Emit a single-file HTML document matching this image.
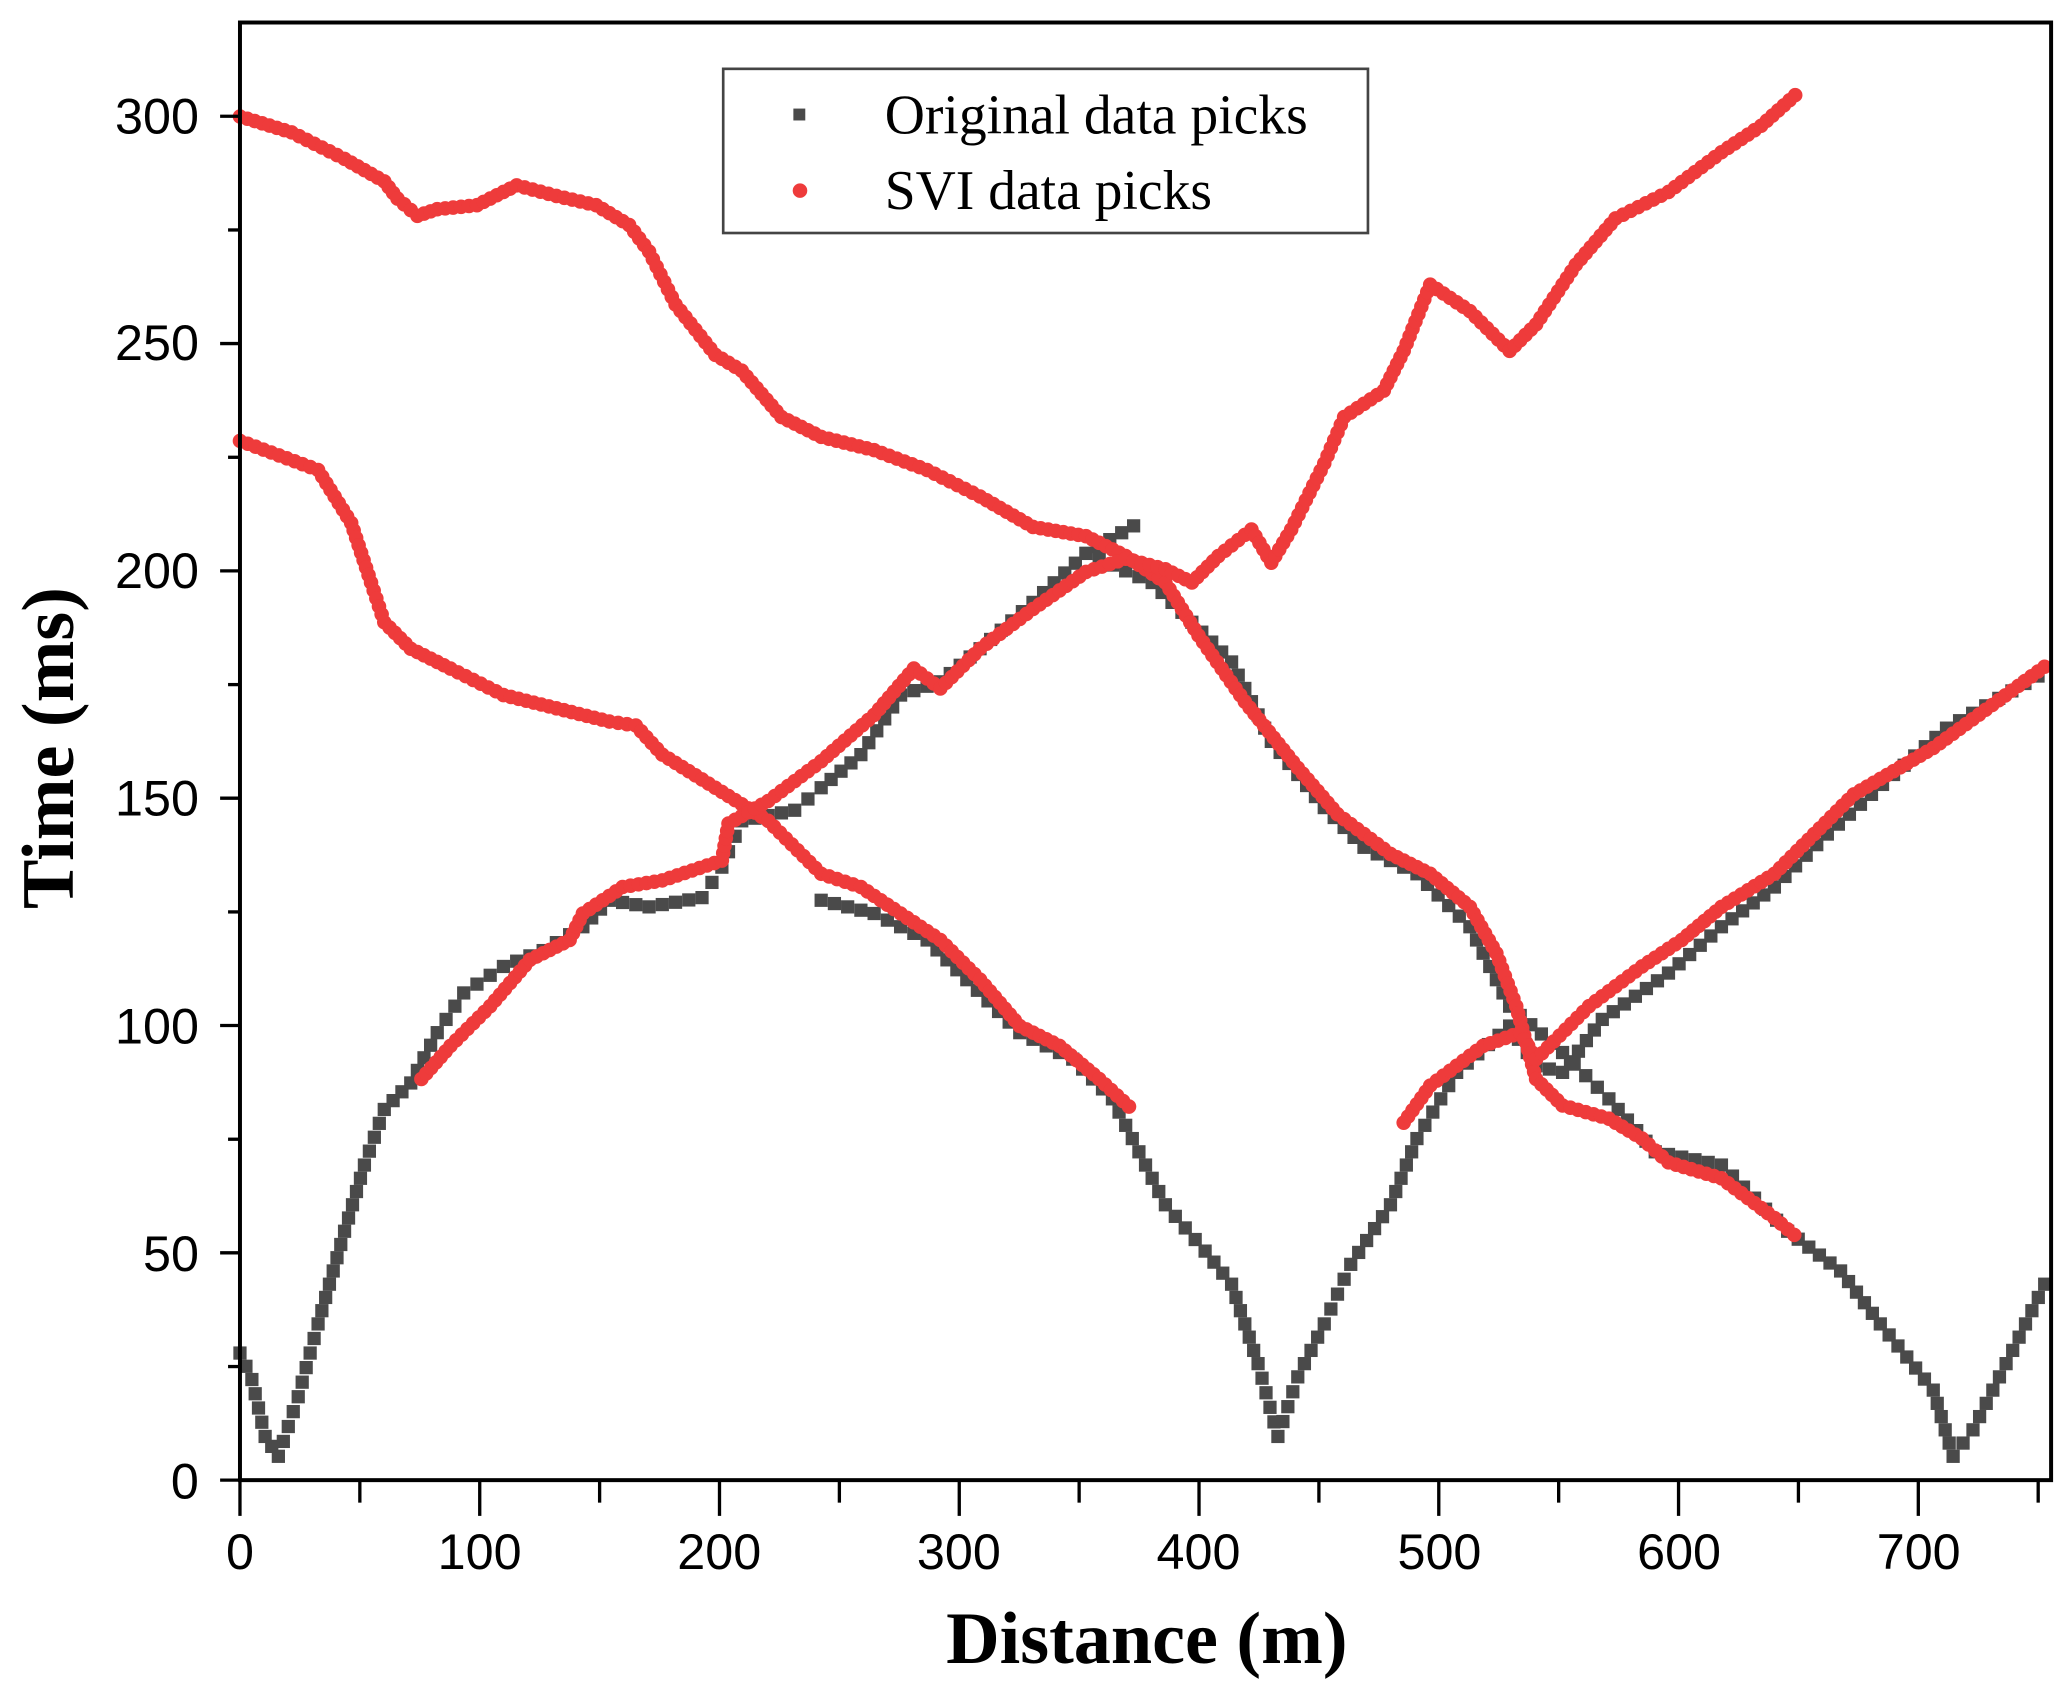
<!DOCTYPE html>
<html><head><meta charset="utf-8"><style>
html,body{margin:0;padding:0;background:#fff;}
svg{display:block;}
</style></head><body>
<svg id="s" width="2066" height="1688" viewBox="0 0 1560 1275" xmlns="http://www.w3.org/2000/svg">
<rect width="1560" height="1275" fill="#fff"/>
<g id="data"></g>
<rect x="181" y="17" width="1368" height="1101" fill="none" stroke="#000" stroke-width="3"/>
<g stroke="#000" stroke-width="2.5" id="ticks"></g>
<g font-family="Liberation Sans, sans-serif" font-size="38" fill="#000" text-anchor="end">
<text x="150" y="101">300</text><text x="150" y="272">250</text><text x="150" y="444">200</text>
<text x="150" y="616">150</text><text x="150" y="788">100</text><text x="150" y="960">50</text><text x="150" y="1132">0</text>
</g>
<g font-family="Liberation Sans, sans-serif" font-size="38" fill="#000" text-anchor="middle">
<text x="181" y="1185">0</text><text x="362" y="1185">100</text><text x="543" y="1185">200</text><text x="724" y="1185">300</text>
<text x="905" y="1185">400</text><text x="1087" y="1185">500</text><text x="1268" y="1185">600</text><text x="1449" y="1185">700</text>
</g>
<text x="866" y="1256" font-family="Liberation Serif, serif" font-weight="bold" font-size="56" text-anchor="middle">Distance (m)</text>
<text transform="translate(55,565) rotate(-90)" font-family="Liberation Serif, serif" font-weight="bold" font-size="56" text-anchor="middle">Time (ms)</text>
<rect x="546" y="52" width="487" height="124" fill="#fff" stroke="#444" stroke-width="2"/>
<rect x="599" y="82" width="9" height="9" fill="#4a4a4a"/>
<circle cx="604" cy="144" r="5.5" fill="#ee3b3b"/>
<g font-family="Liberation Serif, serif" font-size="42" fill="#000">
<text x="668" y="101">Original data picks</text><text x="668" y="158">SVI data picks</text>
</g>
</svg>
<script>
var NS="http://www.w3.org/2000/svg";
var t=document.getElementById("ticks");
function ln(x1,y1,x2,y2){var l=document.createElementNS(NS,"line");l.setAttribute("x1",x1);l.setAttribute("y1",y1);l.setAttribute("x2",x2);l.setAttribute("y2",y2);t.appendChild(l);}
for(var i=0;i<=15;i++){var x=181+i*90.55;ln(x,1118,x,i%2?1135:1145);}
for(var i=0;i<=6;i++){var y=1118-i*171.7;ln(181,y,166,y);if(i<6)ln(181,y-85.8,172,y-85.8);}
var d=document.getElementById("data");
function series(pts,red,step){
 for(var i=0;i<pts.length-1;i++){var a=pts[i],b=pts[i+1];var dx=b[0]-a[0],dy=b[1]-a[1];var L=Math.hypot(dx,dy);var n=Math.max(1,Math.round(L/step));
  for(var k=0;k<n;k++){var x=a[0]+dx*k/n,y=a[1]+dy*k/n;var e;
   if(red){e=document.createElementNS(NS,"circle");e.setAttribute("cx",x);e.setAttribute("cy",y);e.setAttribute("r",5.5);e.setAttribute("fill","#ee3b3b");}
   else{e=document.createElementNS(NS,"rect");e.setAttribute("x",x-5);e.setAttribute("y",y-5);e.setAttribute("width",10);e.setAttribute("height",10);e.setAttribute("fill","#4a4a4a");}
   d.appendChild(e);}}
}
var g=[
[[181,1022],[190,1042],[200,1085],[210,1100],[225,1055],[240,1000],[260,930],[275,880],[290,838],[310,818],[330,780],[350,750],[380,730],[410,718],[440,700],[460,680],[490,685],[530,678],[545,655],[560,620],[600,612],[620,595],[650,570],[680,525],[710,515],[740,490],[780,455],[820,418],[865,392]],
[[820,418],[870,440],[900,470],[930,500],[960,560],[1000,610],[1030,640],[1070,660],[1110,700],[1140,760],[1180,795],[1215,830],[1250,870],[1300,880],[1350,930],[1390,960],[1420,1000],[1460,1050],[1475,1100],[1490,1080],[1520,1020],[1549,960]],
[[620,680],[660,690],[700,710],[730,740],[770,780],[810,800],[840,830],[860,870],[880,910],[910,945],[930,970],[950,1030],[965,1085],[980,1040],[1000,1000],[1020,955],[1050,910],[1070,860],[1100,810],[1140,775],[1160,805],[1180,810],[1210,770],[1260,735],[1300,700],[1340,670],[1380,630],[1430,585],[1470,550],[1549,505]]
];
g.forEach(function(p){series(p,false,11);});
var r=[
[[181,88],[220,100],[260,120],[290,137],[300,150],[315,163],[330,158],[360,155],[390,140],[420,148],[450,155],[475,170],[490,190],[510,230],[540,268],[560,280],[590,315],[620,330],[660,340],[700,355],[740,375],[780,398],[820,405],[850,420],[880,440],[905,480],[940,530],[980,580],[1010,615],[1050,645],[1080,660],[1110,685],[1130,720],[1145,760],[1160,815],[1180,835],[1215,845],[1240,860],[1260,878],[1300,890],[1340,920],[1360,937]],
[[181,333],[240,355],[265,395],[280,440],[290,470],[310,490],[340,505],[380,525],[420,535],[460,545],[480,548],[500,570],[540,595],[580,620],[620,660],[650,670],[680,690],[710,710],[740,740],[770,775],[800,790],[830,815],[857,840]],
[[318,815],[340,790],[370,760],[400,725],[430,710],[440,690],[470,670],[500,665],[545,650],[550,622],[580,605],[620,575],[660,540],[690,505],[710,520],[740,490],[780,460],[820,432],[850,422],[880,430],[900,440],[920,420],[945,400],[960,425],[975,400],[1000,350],[1015,315],[1045,295],[1060,265],[1080,215],[1110,235],[1140,265],[1160,245],[1190,200],[1220,165],[1260,145],[1300,115],[1330,95],[1360,68]],
[[1060,848],[1080,820],[1120,790],[1148,780],[1160,800],[1200,760],[1240,730],[1270,710],[1300,685],[1340,660],[1400,600],[1460,565],[1549,500]]
];
r.forEach(function(p){series(p,true,6);});
</script>
</body></html>
